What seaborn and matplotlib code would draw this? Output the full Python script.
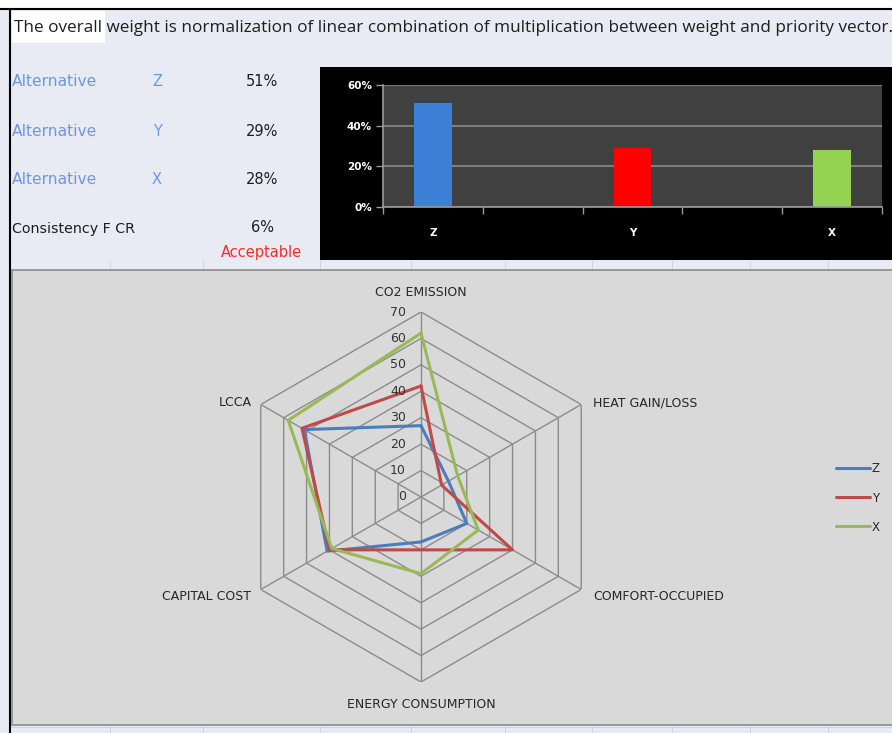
import numpy as np
import pandas as pd
import matplotlib.pyplot as plt
import matplotlib.transforms as mtransforms
from matplotlib.patches import Rectangle
from matplotlib.lines import Line2D
import seaborn as sns

sns.set_theme(style="white")
plt.rcParams['font.family'] = ['DejaVu Sans']

# data
alternatives = ['Z', 'Y', 'X']
overall_weight = [51, 29, 28]
consistency_ratio = 6
bar_slots = ['Z', 'gap1', 'Y', 'gap2', 'X']
bar_yticks = [0, 20, 40, 60]

criteria = ['CO2 EMISSION', 'HEAT GAIN/LOSS', 'COMFORT-OCCUPIED',
            'ENERGY CONSUMPTION', 'CAPITAL COST', 'LCCA']
z_scores = [27, 12, 20, 17, 41, 51]
y_scores = [42, 9, 40, 20, 40, 52]
x_scores = [62, 16, 25, 29, 39, 58]
radar_ticks = [0, 10, 20, 30, 40, 50, 60, 70]

series_colors = {'Z': '#4A7EBB', 'Y': '#BE4B48', 'X': '#98B954'}
bar_colors = {'Z': '#3D7FD6', 'Y': '#FF0000', 'X': '#94D352'}

W, H = 892, 733
fig = plt.figure(figsize=(W / 100, H / 100), dpi=100)
fig.patch.set_facecolor('#E9EBF4')


def fx(x):
    return x / W


def fy(y):
    return 1 - y / H


def px_rect(x0, y0, x1, y1, zorder=-10, **kw):
    r = Rectangle((fx(x0), fy(y1)), fx(x1) - fx(x0), fy(y0) - fy(y1),
                  transform=fig.transFigure, zorder=zorder, **kw)
    fig.add_artist(r)
    return r


def px_line(x0, y0, x1, y1, zorder=-5, **kw):
    fig.add_artist(Line2D([fx(x0), fx(x1)], [fy(y0), fy(y1)],
                          transform=fig.transFigure, zorder=zorder, **kw))


# sheet frame and faint cell lines
px_rect(0, 0, W, 9, facecolor='white', edgecolor='none')
px_line(0, 9, W, 9, color='black', lw=1.5)
px_line(10, 9, 10, H, color='black', lw=1.5)
for cx in [110, 203, 320, 411, 505, 592, 672, 750, 828]:
    px_line(cx, 260, cx, 270, color='#D0D5E4', lw=0.8, zorder=-12)
    px_line(cx, 726, cx, H, color='#D0D5E4', lw=0.8, zorder=-12)
px_line(10, 727, W, 727, color='#D0D5E4', lw=0.8, zorder=-12)
px_rect(12, 11, 105, 43, facecolor='white', edgecolor='none')

fig.text(fx(14), fy(28), 'The overall weight is normalization of linear combination of '
         'multiplication between weight and priority vector.',
         fontsize=12.35, color='#1E1E1E', va='center', ha='left', family='Open Sans')

# left table
row_y = [82, 131, 180]
for yy, alt, val in zip(row_y, alternatives, overall_weight):
    fig.text(fx(12), fy(yy), 'Alternative', fontsize=11.2, color='#6A98E0', va='center')
    fig.text(fx(157), fy(yy), alt, fontsize=10.5, color='#6A98E0', va='center', ha='center')
    fig.text(fx(278), fy(yy), f'{val}%', fontsize=10.5, color='#1E1E1E', va='center', ha='right')
fig.text(fx(12), fy(229), 'Consistency F CR', fontsize=10.3, color='#1E1E1E', va='center')
fig.text(fx(274), fy(228), f'{consistency_ratio}%', fontsize=10.5, color='#1E1E1E',
         va='center', ha='right')
fig.text(fx(302), fy(253), 'Acceptable', fontsize=10.5, color='#FF2A2A', va='center', ha='right')

# bar chart
px_rect(320, 67, W, 260, facecolor='black', edgecolor='none')
bax = fig.add_axes([fx(383), fy(207), fx(882) - fx(383), fy(85) - fy(207)])
bar_df = pd.DataFrame({'alt': alternatives, 'weight': overall_weight})
sns.barplot(data=bar_df, x='alt', y='weight', hue='alt', order=bar_slots,
            palette=bar_colors, saturation=1, width=0.38, legend=False, ax=bax,
            linewidth=0)
bax.set_facecolor('#404040')
bax.set_ylim(0, 60)
bax.set_xlim(-0.5, len(bar_slots) - 0.5)
bax.set_yticks(bar_yticks)
bax.set_yticklabels([f'{t}%' for t in bar_yticks], color='white',
                    fontsize=7.5, fontweight='bold')
bax.yaxis.grid(True, color='#8A8A8A', lw=1.2)
bax.set_axisbelow(True)
bax.set_xticks(np.arange(-0.5, len(bar_slots), 1))
bax.set_xticklabels([''] * (len(bar_slots) + 1))
bax.set_xticks([bar_slots.index(a) for a in alternatives], minor=True)
bax.set_xticklabels(alternatives, minor=True, color='white', fontsize=7.5, fontweight='bold')
bax.tick_params(axis='x', which='major', length=5, color='#9A9A9A', width=1,
                direction='out', bottom=True)
bax.tick_params(axis='x', which='minor', length=0, pad=15)
bax.tick_params(axis='y', length=5, color='#9A9A9A', width=1, left=True, pad=3)
bax.set_xlabel('')
bax.set_ylabel('')
for side in ['top', 'right']:
    bax.spines[side].set_visible(False)
for side in ['left', 'bottom']:
    bax.spines[side].set_color('#9A9A9A')
    bax.spines[side].set_linewidth(1.2)

# radar chart panel
px_rect(12, 270, W + 5, 725, facecolor='#D9D9D9', edgecolor='#8C8C8C', lw=1.2)
cx, cy, rad = 421, 497, 185
rax = fig.add_axes([fx(cx - rad), fy(cy + rad), 2 * rad / W, 2 * rad / H],
                   projection='polar')
rax.set_theta_zero_location('N')
rax.set_theta_direction(-1)
rax.set_ylim(0, radar_ticks[-1])
rax.grid(False)
rax.set_xticks([])
rax.set_yticks([])
rax.spines['polar'].set_visible(False)
rax.patch.set_alpha(0)

angles = np.linspace(0, 2 * np.pi, len(criteria), endpoint=False)
closed = np.append(angles, angles[0])
for r in radar_ticks[1:]:
    rax.plot(closed, [r] * len(closed), color='#8C8C8C', lw=1)
for a in angles:
    rax.plot([a, a], [0, radar_ticks[-1]], color='#8C8C8C', lw=1)

lab_tr = mtransforms.offset_copy(rax.transData, fig=fig, x=-15, y=0, units='dots')
for r in radar_ticks:
    rax.text(0, r, str(r), transform=lab_tr, ha='right', va='center',
             fontsize=9, color='#333333')

label_offsets = [(0, 19, 'center'), (12, 2, 'left'), (12, -7, 'left'),
                 (0, -22, 'center'), (-10, -7, 'right'), (-9, 2, 'right')]
for a, name, (ox, oy, ha) in zip(angles, criteria, label_offsets):
    tr = mtransforms.offset_copy(rax.transData, fig=fig, x=ox, y=oy, units='dots')
    rax.text(a, radar_ticks[-1], name, transform=tr, ha=ha, va='center',
             fontsize=9, color='#262626')

handles = []
for name, vals in zip(alternatives, [z_scores, y_scores, x_scores]):
    h, = rax.plot(closed, vals + [vals[0]], color=series_colors[name], lw=2.2, label=name)
    handles.append(h)

fig.legend(handles, alternatives, loc='center left',
           bbox_to_anchor=(fx(825), fy(498)), frameon=False, fontsize=8.5,
           handlelength=2.9, handletextpad=0.15, labelspacing=1.36,
           labelcolor='#262626')

fig.savefig('out.png', dpi=100, facecolor=fig.get_facecolor())
